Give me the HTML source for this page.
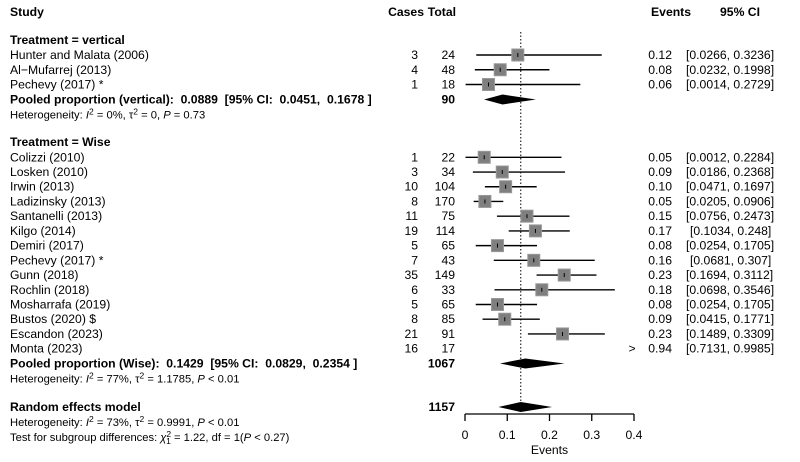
<!DOCTYPE html>
<html><head><meta charset="utf-8"><style>
body{margin:0;background:#fff;width:800px;height:462px;overflow:hidden}
svg{display:block;font-family:"Liberation Sans",Arial,sans-serif;font-size:12.2px}
.b{font-weight:bold}
</style></head><body>
<svg id="fp" width="800" height="462"></svg>
<script>
const studies=["Hunter and Malata (2006)","Al\u2212Mufarrej (2013)","Pechevy (2017) *","Colizzi (2010)","Losken (2010)","Irwin (2013)","Ladizinsky (2013)","Santanelli (2013)","Kilgo (2014)","Demiri (2017)","Pechevy (2017) *","Gunn (2018)","Rochlin (2018)","Mosharrafa (2019)","Bustos (2020) $","Escandon (2023)","Monta (2023)"];
const cases=[3,4,1,1,3,10,8,11,19,5,7,35,6,5,8,21,16];
const totals=[24,48,18,22,34,104,170,75,114,65,43,149,33,65,85,91,17];
const est=[0.125,0.0833,0.0556,0.0455,0.0882,0.0962,0.0471,0.1467,0.1667,0.0769,0.1628,0.2349,0.1818,0.0769,0.0941,0.2308,0.9412];
const lo=[0.0266,0.0232,0.0014,0.0012,0.0186,0.0471,0.0205,0.0756,0.1034,0.0254,0.0681,0.1694,0.0698,0.0254,0.0415,0.1489,0.7131];
const hi=[0.3236,0.1998,0.2729,0.2284,0.2368,0.1697,0.0906,0.2473,0.248,0.1705,0.307,0.3112,0.3546,0.1705,0.1771,0.3309,0.9985];
const evLabels=["0.12","0.08","0.06","0.05","0.09","0.10","0.05","0.15","0.17","0.08","0.16","0.23","0.18","0.08","0.09","0.23","0.94"];
const ciLabels=["[0.0266, 0.3236]","[0.0232, 0.1998]","[0.0014, 0.2729]","[0.0012, 0.2284]","[0.0186, 0.2368]","[0.0471, 0.1697]","[0.0205, 0.0906]","[0.0756, 0.2473]","[0.1034, 0.248]","[0.0254, 0.1705]","[0.0681, 0.307]","[0.1694, 0.3112]","[0.0698, 0.3546]","[0.0254, 0.1705]","[0.0415, 0.1771]","[0.1489, 0.3309]","[0.7131, 0.9985]"];
const pooledEst=[0.0889,0.1429,0.132];
const pooledLo=[0.0451,0.0829,0.079];
const pooledHi=[0.1678,0.2354,0.206];
const pooledTotals=[90,1067,1157];
const ticks=[0,0.1,0.2,0.3,0.4];

const X0=465,X1=634,XMAX=0.4;
const x=v=>X0+(X1-X0)*v/XMAX;
const rowY=i=>i<3?55+i*14.75:157.3+(i-3)*14.72;
const pooledY=[99.5,363.5,407];
const svg=document.getElementById('fp');
const NS='http://www.w3.org/2000/svg';
function mk(tag,attrs,parent){const e=document.createElementNS(NS,tag);for(const k in attrs)e.setAttribute(k,attrs[k]);(parent||svg).appendChild(e);return e;}
function txt(s,xx,yy,anchor,cls){const t=mk('text',{x:xx,y:yy+4,'text-anchor':anchor||'start'});if(cls)t.setAttribute('class',cls);t.innerHTML=s;return t;}

let t;
t=txt('Study',10,12,'start','b');
t=txt('Cases',424,12,'end','b');
t=txt('Total',456,12,'end','b');
t=txt('Events',691,12,'end','b');
t=txt('95% CI',740,12,'middle','b');
t=txt('Treatment = vertical',10,40,'start','b');
t=txt('Treatment = Wise',10,142,'start','b');

const ref=mk('line',{x1:x(pooledEst[2]),x2:x(pooledEst[2]),y1:32,y2:403,stroke:'#000','stroke-width':1,'stroke-dasharray':'1.5,2'});



for(let i=0;i<studies.length;i++){
  const y=rowY(i);
  const g=mk('g',{});
  
  
  g.appendChild(txt(studies[i],10,y,'start'));
  g.appendChild(txt(String(cases[i]),418,y,'end'));
  g.appendChild(txt(String(totals[i]),455,y,'end'));
  g.appendChild(txt(evLabels[i],672,y,'end'));
  g.appendChild(txt(ciLabels[i],i==8||i==10?690:686,y,'start'));
  if(hi[i]<=XMAX){
    mk('line',{x1:x(lo[i]),x2:x(hi[i]),y1:y,y2:y,stroke:'#000','stroke-width':1.4},g);
    const s=12;
    mk('rect',{x:x(est[i])-s/2,y:y-s/2,width:s,height:s,fill:'#7f7f7f',stroke:'#999','stroke-width':1},g);
    mk('line',{x1:x(est[i]),x2:x(est[i]),y1:y-2,y2:y+2,stroke:'#000','stroke-width':1},g);
  } else {
    g.appendChild(txt('&gt;',632,y,'middle'));
  }
}

const pooledLabels=['Pooled proportion (vertical): &#160;0.0889 &#160;[95% CI: &#160;0.0451, &#160;0.1678 ]','Pooled proportion (Wise): &#160;0.1429 &#160;[95% CI: &#160;0.0829, &#160;0.2354 ]','Random effects model'];
const hetLabels=['Heterogeneity: <tspan font-style="italic">I</tspan><tspan dy="-4" font-size="8.5">2</tspan><tspan dy="4"> = 0%, τ</tspan><tspan dy="-4" font-size="8.5">2</tspan><tspan dy="4"> = 0, </tspan><tspan font-style="italic">P</tspan> = 0.73',
'Heterogeneity: <tspan font-style="italic">I</tspan><tspan dy="-4" font-size="8.5">2</tspan><tspan dy="4"> = 77%, τ</tspan><tspan dy="-4" font-size="8.5">2</tspan><tspan dy="4"> = 1.1785, </tspan><tspan font-style="italic">P</tspan> &lt; 0.01',
'Heterogeneity: <tspan font-style="italic">I</tspan><tspan dy="-4" font-size="8.5">2</tspan><tspan dy="4"> = 73%, τ</tspan><tspan dy="-4" font-size="8.5">2</tspan><tspan dy="4"> = 0.9991, </tspan><tspan font-style="italic">P</tspan> &lt; 0.01'];
for(let k=0;k<3;k++){
  const y=pooledY[k];
  const g=mk('g',{});
  
  
  g.appendChild(txt(pooledLabels[k],10,y,'start','b'));
  g.appendChild(txt(String(pooledTotals[k]),455,y,'end','b'));
  const h=txt(hetLabels[k],10,y+15,'start');h.setAttribute('font-size','11.2');g.appendChild(h);
  mk('polygon',{points:`${x(pooledLo[k])},${y} ${x(pooledEst[k])},${y-5} ${x(pooledHi[k])},${y} ${x(pooledEst[k])},${y+5}`,fill:'#000'},g);
}
t=txt('Test for subgroup differences: <tspan font-style="italic">χ</tspan><tspan dy="-4" font-size="8.5">2</tspan><tspan dy="7" dx="-5" font-size="8.5">1</tspan><tspan dy="-3"> = 1.22, df = 1(</tspan><tspan font-style="italic">P</tspan> &lt; 0.27)',10,437,'start');
t.setAttribute('font-size','11.2');



const ax=mk('g',{});


mk('line',{x1:x(ticks[0]),x2:x(ticks[ticks.length-1]),y1:414,y2:414,stroke:'#000','stroke-width':1.3},ax);
ticks.forEach(v=>{
  mk('line',{x1:x(v),x2:x(v),y1:414,y2:421,stroke:'#000','stroke-width':1.3},ax);
  ax.appendChild(txt(String(v),x(v),435,'middle'));
});
t=txt('Events',x(0.2),450,'middle');


</script>
</body></html>
